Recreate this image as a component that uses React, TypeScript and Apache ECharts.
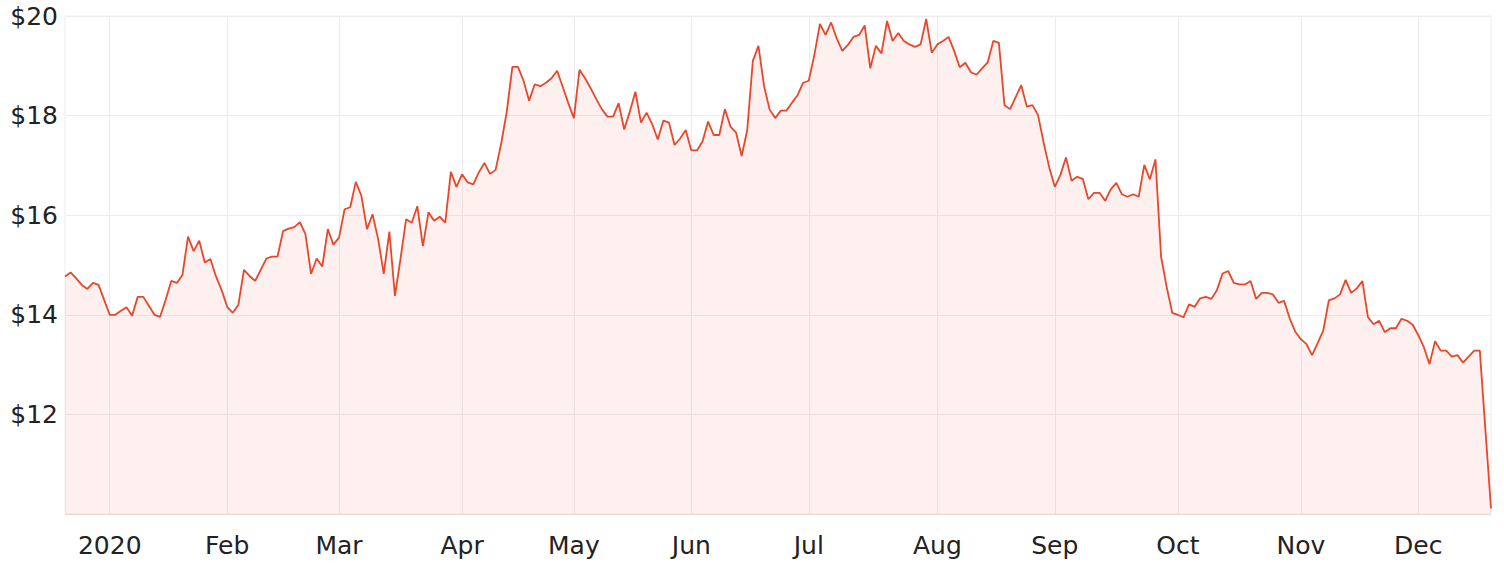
import React, { useEffect, useRef } from "react";
import * as echarts from "echarts";

// Closing prices (AUD) per trading day
const dec2019 = [14.77, 14.85, 14.73, 14.6, 14.52, 14.64, 14.6, 14.3];
const q1 = [
  14.0, 14.0, 14.08, 14.15, 13.98, 14.36, 14.36, 14.18, 14.0, 13.96, 14.3, 14.68, 14.64, 14.8, 15.57, 15.28, 15.49, 15.05, 15.12, 14.77, 14.5,
  14.16, 14.04, 14.2, 14.9, 14.78, 14.68, 14.9, 15.13, 15.17, 15.17, 15.68, 15.73, 15.76, 15.86, 15.62, 14.82, 15.13, 14.97, 15.72, 15.41,
  15.55, 16.12, 16.16, 16.67, 16.39, 15.72, 16.02, 15.52, 14.82, 15.67, 14.38, 15.13, 15.92, 15.85, 16.18, 15.38, 16.06, 15.89, 15.97, 15.85, 16.87, 16.57,
];
const q2 = [
  16.82, 16.66, 16.62, 16.86, 17.05, 16.83, 16.91, 17.44, 18.08, 18.98, 18.98, 18.7, 18.3, 18.63, 18.59, 18.66, 18.75, 18.9, 18.58, 18.25,
  17.95, 18.92, 18.75, 18.55, 18.33, 18.13, 17.98, 17.98, 18.25, 17.72, 18.08, 18.48, 17.86, 18.06, 17.83, 17.52, 17.9, 17.86, 17.41, 17.54, 17.71,
  17.3, 17.3, 17.48, 17.88, 17.61, 17.61, 18.13, 17.78, 17.66, 17.19, 17.71, 19.1, 19.4, 18.6, 18.12, 17.95, 18.1, 18.1, 18.26, 18.41, 18.66,
];
const q3 = [
  18.7, 19.22, 19.84, 19.62, 19.87, 19.55, 19.3, 19.42, 19.58, 19.62, 19.81, 18.95, 19.4, 19.25, 19.9, 19.5, 19.66, 19.5, 19.43, 19.38, 19.43, 19.94, 19.26,
  19.43, 19.5, 19.58, 19.3, 18.97, 19.06, 18.87, 18.82, 18.95, 19.07, 19.5, 19.46, 18.21, 18.13, 18.37, 18.61, 18.18, 18.21, 18.01, 17.46, 16.96,
  16.57, 16.81, 17.16, 16.69, 16.77, 16.73, 16.32, 16.45, 16.45, 16.29, 16.52, 16.65, 16.42, 16.37, 16.42, 16.37, 17.01, 16.72, 17.12, 15.17, 14.56, 14.04,
];
const q4 = [
  14.0, 13.95, 14.21, 14.16, 14.33, 14.36, 14.32, 14.5, 14.83, 14.88, 14.64, 14.61, 14.61, 14.68, 14.32, 14.44, 14.44, 14.41, 14.24, 14.28, 13.93, 13.66,
  13.51, 13.41, 13.19, 13.43, 13.68, 14.29, 14.33, 14.41, 14.7, 14.44, 14.53, 14.68, 13.95, 13.81, 13.88, 13.65, 13.73, 13.73, 13.92, 13.88, 13.8,
  13.59, 13.35, 13.01, 13.47, 13.28, 13.28, 13.16, 13.19, 13.04, 13.16, 13.28, 13.28, 11.69, 10.11,
];
const prices = [...dec2019, ...q1, ...q2, ...q3, ...q4];

// Trading calendar (ASX): weekdays minus exchange holidays
const startDate = "2019-12-18";
const holidays = ["2019-12-25", "2019-12-26", "2020-01-01", "2020-01-27", "2020-04-10", "2020-04-13", "2020-06-08"];
const monthLabels = ["2020", "Feb", "Mar", "Apr", "May", "Jun", "Jul", "Aug", "Sep", "Oct", "Nov", "Dec"];
const yTicks = { min: 10, max: 20, interval: 2 };

function buildDates(count: number): string[] {
  const out: string[] = [];
  const d = new Date(startDate + "T00:00:00Z");
  while (out.length < count) {
    const day = d.getUTCDay();
    const iso = d.toISOString().slice(0, 10);
    if (day !== 0 && day !== 6 && !holidays.includes(iso)) out.push(iso);
    d.setUTCDate(d.getUTCDate() + 1);
  }
  return out;
}

export default function App() {
  const ref = useRef<HTMLDivElement>(null);
  useEffect(() => {
    document.body.style.margin = "0";
    if (!ref.current) return;
    const chart = echarts.init(ref.current, undefined, { renderer: "svg" });
    const dates = buildDates(prices.length);
    const isMonthStart = (i: number) => i > 0 && dates[i].slice(0, 7) !== dates[i - 1].slice(0, 7);
    const font = "DejaVu Sans";
    chart.setOption({
      animation: false,
      grid: { left: 65, right: 13, top: 16, bottom: 54, show: true, borderColor: "#ececec", borderWidth: 1 },
      xAxis: {
        type: "category",
        data: dates,
        boundaryGap: false,
        axisLine: { show: true, lineStyle: { color: "#e6dcdc" } },
        axisTick: { show: false },
        axisLabel: {
          interval: (i: number) => isMonthStart(i),
          formatter: (v: string) => {
            const m = parseInt(v.slice(5, 7), 10) - 1;
            return monthLabels[m];
          },
          color: "#222222",
          fontSize: 25,
          fontFamily: font,
          margin: 19,
        },
        splitLine: { show: true, interval: (i: number) => isMonthStart(i), lineStyle: { color: "#ececec", width: 1 } },
      },
      yAxis: {
        type: "value",
        min: yTicks.min,
        max: yTicks.max,
        interval: yTicks.interval,
        axisLine: { show: false },
        axisTick: { show: false },
        axisLabel: {
          showMinLabel: false,
          formatter: (v: number) => "$" + v,
          color: "#222222",
          fontSize: 25,
          fontFamily: font,
          margin: 7,
        },
        splitLine: { show: true, lineStyle: { color: "#ececec", width: 1 } },
      },
      series: [
        {
          type: "line",
          data: prices,
          symbol: "none",
          lineStyle: { color: "#e8472c", width: 1.8 },
          areaStyle: { color: "rgba(232,71,44,0.12)" },
        },
      ],
    });
    return () => chart.dispose();
  }, []);
  return <div ref={ref} style={{ width: 1504, height: 568 }} />;
}
